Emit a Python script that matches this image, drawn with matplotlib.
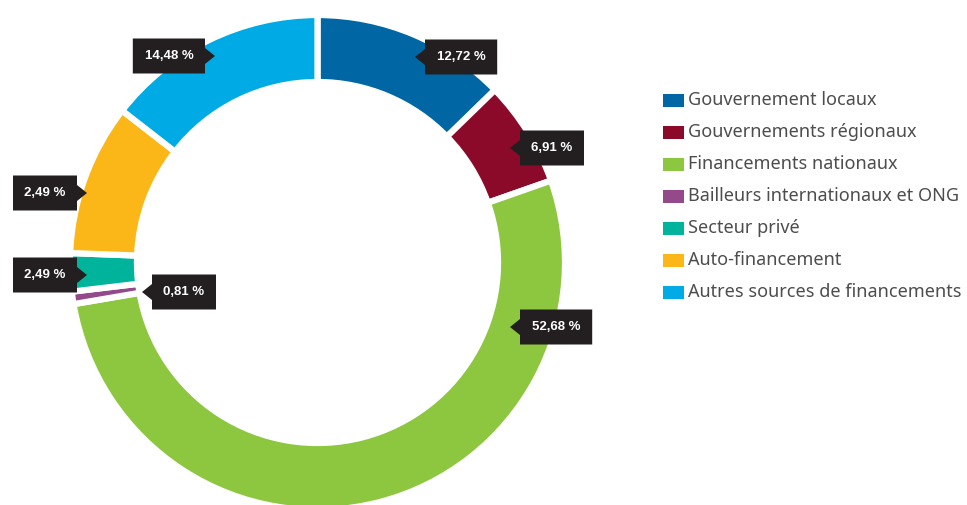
import matplotlib
matplotlib.use("Agg")
import matplotlib.pyplot as plt
from matplotlib.patches import Polygon, Rectangle

# ── data ──────────────────────────────────────────────────────────────────────
categories = [
    "Gouvernement locaux",
    "Gouvernements régionaux",
    "Financements nationaux",
    "Bailleurs internationaux et ONG",
    "Secteur privé",
    "Auto-financement",
    "Autres sources de financements",
]
# slice sizes (Auto-financement slice is ~9.9 % in the picture although labelled 2,49 %)
shares = [12.72, 6.91, 52.68, 0.81, 2.49, 9.91, 14.48]
labels = ["12,72 %", "6,91 %", "52,68 %", "0,81 %", "2,49 %", "2,49 %", "14,48 %"]
colors = ["#0066a4", "#8b0a2a", "#8dc63f", "#944a8a", "#00b39b", "#fbb617", "#00aae4"]

# callout tip (pixel coords, y from top) and the side the pointer is on
tips = [(415, 57), (510, 148), (510, 327), (142, 292), (87, 275), (87, 193), (215, 56)]
pointer_side = ["left", "left", "left", "left", "right", "right", "right"]

W, H = 967, 505
fig = plt.figure(figsize=(W / 100, H / 100), dpi=100)
ax = fig.add_axes([0, 0, 1, 1])

cx, cy = 317.5, H - 262.5
r_out, ring = 247.5, 67

ax.pie(shares, colors=colors, startangle=90, counterclock=False,
       radius=r_out, center=(cx, cy),
       wedgeprops=dict(width=ring, edgecolor="white", linewidth=4.5))

# ── callouts ──────────────────────────────────────────────────────────────────
box_h, notch_w, notch_h, gap = 35, 9, 16, 10
for lab, (tx, ty), side in zip(labels, tips, pointer_side):
    ty = H - ty
    bw = 20 + 8.2 * len(lab.replace(" ", "")) + 3
    if side == "left":
        x0, x1 = tx + gap, tx + gap + bw
        poly = [(x0, ty + box_h / 2), (x1, ty + box_h / 2), (x1, ty - box_h / 2),
                (x0, ty - box_h / 2), (x0, ty - notch_h / 2), (tx, ty),
                (x0, ty + notch_h / 2)]
    else:
        x1, x0 = tx - gap, tx - gap - bw
        poly = [(x0, ty + box_h / 2), (x1, ty + box_h / 2), (x1, ty + notch_h / 2),
                (tx, ty), (x1, ty - notch_h / 2), (x1, ty - box_h / 2),
                (x0, ty - box_h / 2)]
    ax.add_patch(Polygon(poly, closed=True, facecolor="#231f20", edgecolor="none",
                         zorder=5))
    ax.text((x0 + x1) / 2, ty, lab, color="white", fontsize=9.5, fontweight="bold",
            family="Liberation Sans", ha="center", va="center", zorder=6)

# ── legend ────────────────────────────────────────────────────────────────────
for i, (cat, col) in enumerate(zip(categories, colors)):
    yc = H - (100 + 32 * i)
    ax.add_patch(Rectangle((663, yc - 6.5), 21, 13, facecolor=col, edgecolor="none"))
    ax.text(688, yc, cat, color="#4d4d4f", fontsize=13, family="Noto Sans",
            ha="left", va="center")

ax.set_xlim(0, W)
ax.set_ylim(0, H)
ax.set_aspect("equal")
ax.axis("off")

fig.savefig("out.png", dpi=100)
